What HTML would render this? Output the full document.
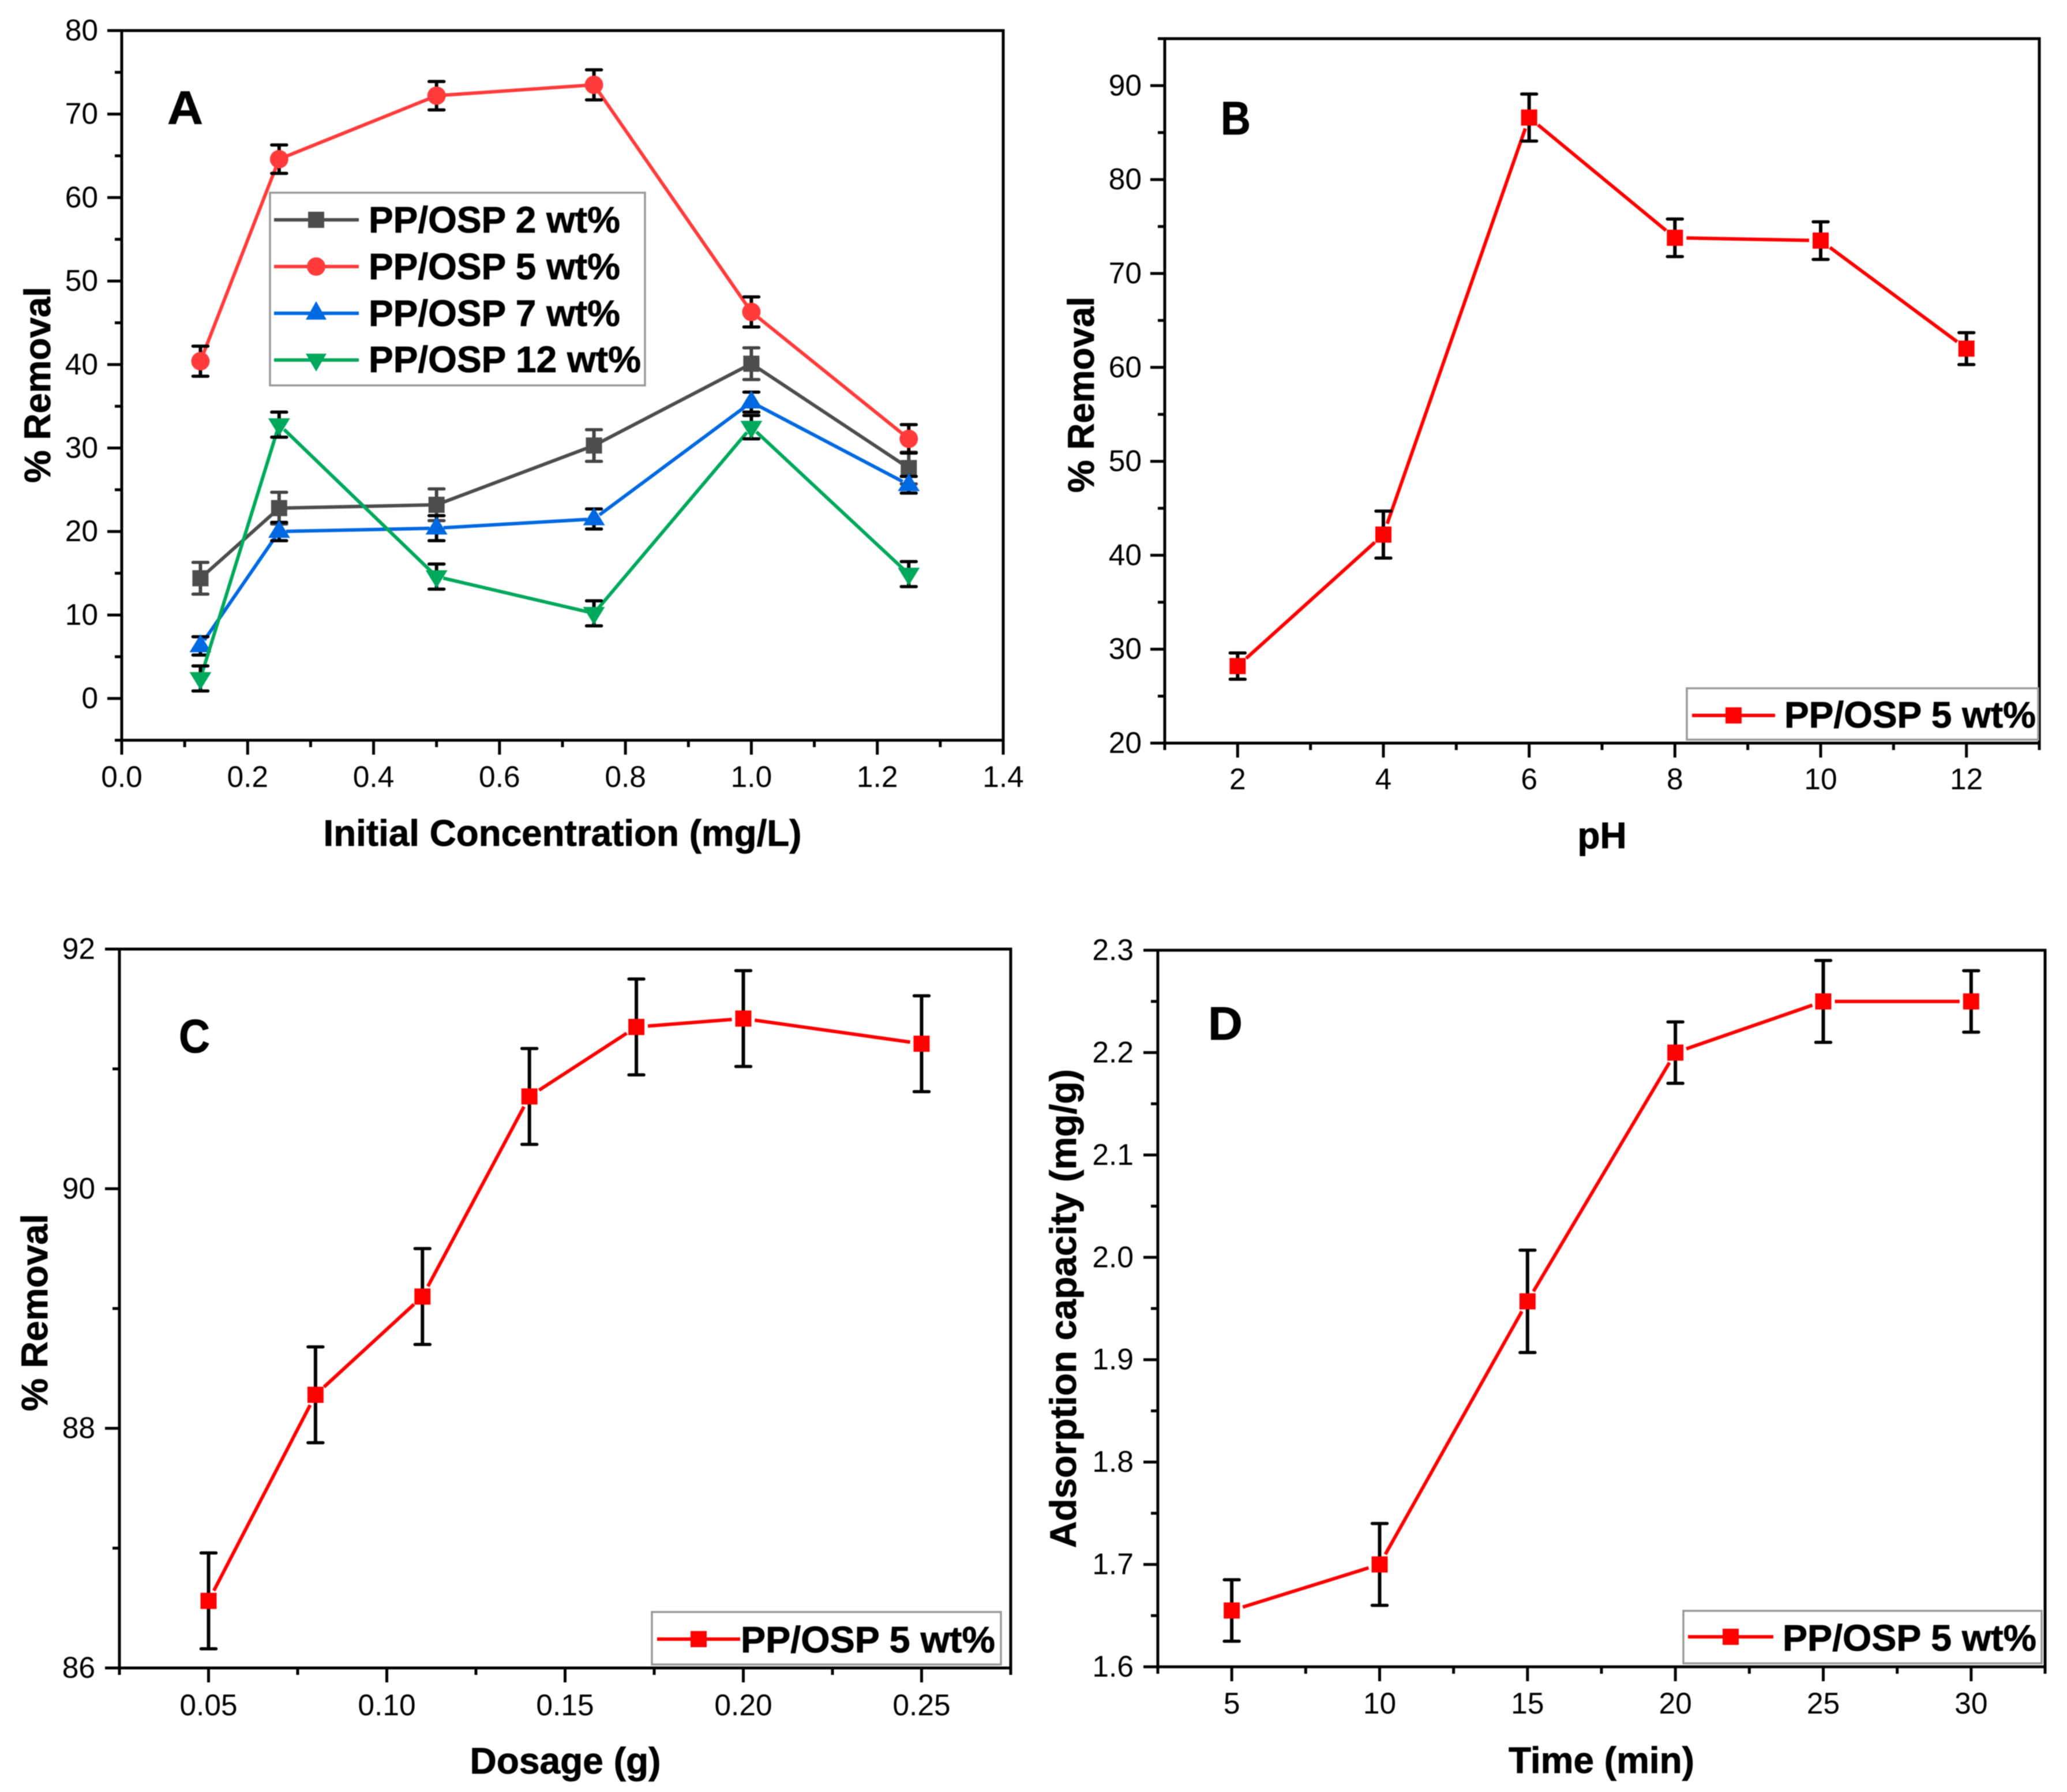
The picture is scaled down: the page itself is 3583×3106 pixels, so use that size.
<!DOCTYPE html>
<html lang="en">
<head>
<meta charset="utf-8">
<title>Removal performance of PP/OSP composites</title>
<style>
html,body{margin:0;padding:0;background:#fff;}
svg{display:block;filter:blur(0.7px);}
text{font-family:"Liberation Sans",sans-serif;fill:#000;}
.tick{font-size:51.5px;}
.bold{font-size:64px;font-weight:700;stroke:#000;stroke-width:0.8;}
.letter{font-size:82px;font-weight:700;stroke:#000;stroke-width:0.8;}
.box{fill:#fff;stroke:#999;stroke-width:3.5;}
</style>
</head>
<body>
<svg id="figure" xmlns="http://www.w3.org/2000/svg" width="3583" height="3106" viewBox="0 0 3583 3106">
<rect x="0" y="0" width="3583" height="3106" fill="#fff"/>
<g id="panel-a"></g>
<g id="panel-b"></g>
<g id="panel-c"></g>
<g id="panel-d"></g>

<text class="letter" x="290" y="215" textLength="62" lengthAdjust="spacingAndGlyphs">A</text>
<text class="letter" x="2116" y="233" textLength="52" lengthAdjust="spacingAndGlyphs">B</text>
<text class="letter" x="310" y="1824" textLength="54" lengthAdjust="spacingAndGlyphs">C</text>
<text class="letter" x="2094" y="1802" textLength="60" lengthAdjust="spacingAndGlyphs">D</text>

<text class="bold" x="975" y="1466" text-anchor="middle" textLength="829" lengthAdjust="spacingAndGlyphs">Initial Concentration (mg/L)</text>
<text class="bold" x="87" y="667" text-anchor="middle" transform="rotate(-90 87 667)" textLength="340" lengthAdjust="spacingAndGlyphs">% Removal</text>
<text class="bold" x="2777" y="1470" text-anchor="middle">pH</text>
<text class="bold" x="1896" y="684" text-anchor="middle" transform="rotate(-90 1896 684)" textLength="340" lengthAdjust="spacingAndGlyphs">% Removal</text>
<text class="bold" x="980" y="3074" text-anchor="middle" textLength="331" lengthAdjust="spacingAndGlyphs">Dosage (g)</text>
<text class="bold" x="82" y="2275" text-anchor="middle" transform="rotate(-90 82 2275)" textLength="342" lengthAdjust="spacingAndGlyphs">% Removal</text>
<text class="bold" x="2776" y="3073" text-anchor="middle" textLength="322" lengthAdjust="spacingAndGlyphs">Time (min)</text>
<text class="bold" x="1865" y="2268" text-anchor="middle" transform="rotate(-90 1865 2268)" textLength="830" lengthAdjust="spacingAndGlyphs">Adsorption capacity (mg/g)</text>

<g>
  <rect class="box" x="468" y="334" width="650" height="334"/>
  <g>
    <line x1="475" y1="381" x2="622" y2="381" stroke="#4d4d4d" stroke-width="6"/>
    <rect x="534" y="367" width="28" height="28" fill="#4d4d4d"/>
    <text class="bold" x="639" y="403" textLength="436" lengthAdjust="spacingAndGlyphs">PP/OSP 2 wt%</text>
  </g>
  <g>
    <line x1="475" y1="462" x2="622" y2="462" stroke="#ff3b3b" stroke-width="6"/>
    <circle cx="548" cy="462" r="16" fill="#ff3b3b"/>
    <text class="bold" x="639" y="484" textLength="436" lengthAdjust="spacingAndGlyphs">PP/OSP 5 wt%</text>
  </g>
  <g>
    <line x1="475" y1="543" x2="622" y2="543" stroke="#0068e0" stroke-width="6"/>
    <polygon points="548,522 566,554 530,554" fill="#0068e0"/>
    <text class="bold" x="639" y="565" textLength="436" lengthAdjust="spacingAndGlyphs">PP/OSP 7 wt%</text>
  </g>
  <g>
    <line x1="475" y1="624" x2="622" y2="624" stroke="#00a85c" stroke-width="6"/>
    <polygon points="530,613 566,613 548,644" fill="#00a85c"/>
    <text class="bold" x="639" y="645" textLength="472" lengthAdjust="spacingAndGlyphs">PP/OSP 12 wt%</text>
  </g>
</g>

<g>
  <rect class="box" x="2924" y="1193" width="609" height="89"/>
  <line x1="2933" y1="1240" x2="3077" y2="1240" stroke="#f00" stroke-width="6"/>
  <rect x="2991" y="1226" width="28" height="28" fill="#f00"/>
  <text class="bold" x="3093" y="1261" textLength="436" lengthAdjust="spacingAndGlyphs">PP/OSP 5 wt%</text>
</g>
<g>
  <rect class="box" x="1130" y="2794" width="605" height="91"/>
  <line x1="1139" y1="2841" x2="1283" y2="2841" stroke="#f00" stroke-width="6"/>
  <rect x="1197" y="2827" width="28" height="28" fill="#f00"/>
  <text class="bold" x="1284" y="2864" textLength="441" lengthAdjust="spacingAndGlyphs">PP/OSP 5 wt%</text>
</g>
<g>
  <rect class="box" x="2918" y="2792" width="621" height="91"/>
  <line x1="2926" y1="2837" x2="3074" y2="2837" stroke="#f00" stroke-width="6"/>
  <rect x="2986" y="2823" width="28" height="28" fill="#f00"/>
  <text class="bold" x="3090" y="2861" textLength="440" lengthAdjust="spacingAndGlyphs">PP/OSP 5 wt%</text>
</g>
</svg>

<script>
// ----- Panel A data -----
const aCategories = [0.125, 0.25, 0.5, 0.75, 1.0, 1.25];
const aValues2wt  = [14.4, 22.8, 23.2, 30.3, 40.1, 27.6];
const aErrors2wt  = [1.9, 1.9, 1.9, 1.9, 1.9, 1.9];
const aValues5wt  = [40.4, 64.6, 72.2, 73.5, 46.3, 31.1];
const aErrors5wt  = [1.8, 1.7, 1.7, 1.8, 1.8, 1.7];
const aValues7wt  = [6.3, 20.0, 20.4, 21.5, 35.5, 25.6];
const aErrors7wt  = [1.1, 1.1, 1.5, 1.2, 1.2, 1.0];
const aValues12wt = [2.4, 32.8, 14.6, 10.2, 32.5, 14.9];
const aErrors12wt = [1.5, 1.5, 1.5, 1.5, 1.4, 1.5];
const aXTickLabels = ['0.0', '0.2', '0.4', '0.6', '0.8', '1.0', '1.2', '1.4'];
const aXMinorTicks = [0.1, 0.3, 0.5, 0.7, 0.9, 1.1, 1.3];
const aYTickLabels = ['0', '10', '20', '30', '40', '50', '60', '70', '80'];
const aYMinorTicks = [-5, 5, 15, 25, 35, 45, 55, 65, 75];

// ----- Panel B data -----
const bCategories = [2, 4, 6, 8, 10, 12];
const bValues = [28.2, 42.2, 86.6, 73.8, 73.5, 62.0];
const bErrors = [1.4, 2.5, 2.5, 2.0, 2.0, 1.7];
const bXTickLabels = ['2', '4', '6', '8', '10', '12'];
const bXMinorTicks = [1, 3, 5, 7, 9, 11, 13];
const bYTickLabels = ['20', '30', '40', '50', '60', '70', '80', '90'];
const bYMinorTicks = [25, 35, 45, 55, 65, 75, 85, 95];

// ----- Panel C data -----
const cCategories = [0.05, 0.08, 0.11, 0.14, 0.17, 0.20, 0.25];
const cValues = [86.56, 88.28, 89.1, 90.77, 91.35, 91.42, 91.21];
const cErrors = [0.4, 0.4, 0.4, 0.4, 0.4, 0.4, 0.4];
const cXTickLabels = ['0.05', '0.10', '0.15', '0.20', '0.25'];
const cXMinorTicks = [0.025, 0.075, 0.125, 0.175, 0.225, 0.275];
const cYTickLabels = ['86', '88', '90', '92'];
const cYMinorTicks = [87, 89, 91];

// ----- Panel D data -----
const dCategories = [5, 10, 15, 20, 25, 30];
const dValues = [1.655, 1.7, 1.957, 2.2, 2.25, 2.25];
const dErrors = [0.03, 0.04, 0.05, 0.03, 0.04, 0.03];
const dXTickLabels = ['5', '10', '15', '20', '25', '30'];
const dXMinorTicks = [2.5, 7.5, 12.5, 17.5, 22.5, 27.5, 32.5];
const dYTickLabels = ['1.6', '1.7', '1.8', '1.9', '2.0', '2.1', '2.2', '2.3'];
const dYMinorTicks = [1.65, 1.75, 1.85, 1.95, 2.05, 2.15, 2.25];

const SVG_NS = 'http://www.w3.org/2000/svg';

function make(tag, parent, attrs) {
  const el = document.createElementNS(SVG_NS, tag);
  for (const k in attrs) el.setAttribute(k, attrs[k]);
  parent.appendChild(el);
  return el;
}

function scale(d0, d1, r0, r1) {
  return function (v) { return r0 + (v - d0) * (r1 - r0) / (d1 - d0); };
}

function drawAxes(g, key, box, xs, ys, xLabels, xMinor, yLabels, yMinor, lab) {
  const axisStyle = { stroke: '#000', 'stroke-width': 5 };
  const frame = make('rect', g, { x: box.l, y: box.t, width: box.r - box.l, height: box.b - box.t, fill: 'none', stroke: '#000', 'stroke-width': 5 });
  
  

  xLabels.forEach(function (s) {
    const x = xs(parseFloat(s));
    const t = make('line', g, Object.assign({ x1: x, x2: x, y1: box.b, y2: box.b + 25 }, axisStyle));
    
    
    const txt = make('text', g, { x: x, y: lab.xBase, class: 'tick', 'text-anchor': 'middle' });
    txt.textContent = s;
    
    
  });
  xMinor.forEach(function (v) {
    const x = xs(v);
    const t = make('line', g, Object.assign({ x1: x, x2: x, y1: box.b, y2: box.b + 12 }, axisStyle));
    
    
  });
  yLabels.forEach(function (s) {
    const y = ys(parseFloat(s));
    const t = make('line', g, Object.assign({ x1: box.l - 25, x2: box.l, y1: y, y2: y }, axisStyle));
    
    
    const txt = make('text', g, { x: lab.yEnd, y: y + 17, class: 'tick', 'text-anchor': 'end' });
    txt.textContent = s;
    
    
  });
  yMinor.forEach(function (v) {
    const y = ys(v);
    const t = make('line', g, Object.assign({ x1: box.l - 12, x2: box.l, y1: y, y2: y }, axisStyle));
    
    
  });
}

function drawSeries(g, key, xs, ys, cats, vals, errs, color, shape, errColor, gap) {
  const size = 28, half = size / 2;
  for (let i = 0; i + 1 < cats.length; i++) {
    const x0 = xs(cats[i]), y0 = ys(vals[i]), x1 = xs(cats[i + 1]), y1 = ys(vals[i + 1]);
    const dx = x1 - x0, dy = y1 - y0, len = Math.hypot(dx, dy);
    const ux = dx / len, uy = dy / len;
    const seg = make('line', g, { x1: x0 + ux * gap, y1: y0 + uy * gap, x2: x1 - ux * gap, y2: y1 - uy * gap, stroke: color, 'stroke-width': 6 });
    
    
  }
  cats.forEach(function (c, i) {
    const x = xs(c), yHi = ys(vals[i] + errs[i]), yLo = ys(vals[i] - errs[i]);
    const stem = make('line', g, { x1: x, x2: x, y1: yHi, y2: yLo, stroke: errColor, 'stroke-width': 6 });
    
    
    const capHi = make('line', g, { x1: x - 13, x2: x + 13, y1: yHi, y2: yHi, stroke: errColor, 'stroke-width': 5.5, 'stroke-linecap': 'round' });
    
    
    const capLo = make('line', g, { x1: x - 13, x2: x + 13, y1: yLo, y2: yLo, stroke: errColor, 'stroke-width': 5.5, 'stroke-linecap': 'round' });
    
    
  });
  cats.forEach(function (c, i) {
    const x = xs(c), y = ys(vals[i]);
    let m;
    if (shape === 'square') {
      m = make('rect', g, { x: x - half, y: y - half, width: size, height: size, fill: color });
    } else if (shape === 'circle') {
      m = make('circle', g, { cx: x, cy: y, r: 16, fill: color });
    } else if (shape === 'up') {
      m = make('polygon', g, { points: x + ',' + (y - 20) + ' ' + (x + 19) + ',' + (y + 11) + ' ' + (x - 19) + ',' + (y + 11), fill: color });
    } else {
      m = make('polygon', g, { points: (x - 19) + ',' + (y - 11) + ' ' + (x + 19) + ',' + (y - 11) + ' ' + x + ',' + (y + 20), fill: color });
    }
    
    
  });
}

(function () {
  const gA = document.getElementById('panel-a');
  const boxA = { l: 211, r: 1739, t: 53, b: 1283 };
  const xA = scale(0, 1.4, boxA.l, boxA.r);
  const yA = scale(-5, 80, boxA.b, boxA.t);
  drawAxes(gA, 'panel-a', boxA, xA, yA, aXTickLabels, aXMinorTicks, aYTickLabels, aYMinorTicks, { xBase: 1364, yEnd: 170 });
  drawSeries(gA, 'series-2-wt', xA, yA, aCategories, aValues2wt, aErrors2wt, '#4d4d4d', 'square', '#444', 12);
  drawSeries(gA, 'series-5-wt', xA, yA, aCategories, aValues5wt, aErrors5wt, '#ff3b3b', 'circle', '#000', 12);
  drawSeries(gA, 'series-7-wt', xA, yA, aCategories, aValues7wt, aErrors7wt, '#0068e0', 'up', '#000', 12);
  drawSeries(gA, 'series-12-wt', xA, yA, aCategories, aValues12wt, aErrors12wt, '#00a85c', 'down', '#000', 12);

  const gB = document.getElementById('panel-b');
  const boxB = { l: 2019, r: 3535, t: 67, b: 1288 };
  const xB = scale(1, 13, boxB.l, boxB.r);
  const yB = scale(20, 95, boxB.b, boxB.t);
  drawAxes(gB, 'panel-b', boxB, xB, yB, bXTickLabels, bXMinorTicks, bYTickLabels, bYMinorTicks, { xBase: 1368, yEnd: 1979 });
  drawSeries(gB, 'series-ph', xB, yB, bCategories, bValues, bErrors, '#f00', 'square', '#000', 20);

  const gC = document.getElementById('panel-c');
  const boxC = { l: 207, r: 1752, t: 1645, b: 2891 };
  const xC = scale(0.025, 0.275, boxC.l, boxC.r);
  const yC = scale(86, 92, boxC.b, boxC.t);
  drawAxes(gC, 'panel-c', boxC, xC, yC, cXTickLabels, cXMinorTicks, cYTickLabels, cYMinorTicks, { xBase: 2973, yEnd: 165 });
  drawSeries(gC, 'series-dosage', xC, yC, cCategories, cValues, cErrors, '#f00', 'square', '#000', 20);

  const gD = document.getElementById('panel-d');
  const boxD = { l: 2007, r: 3545, t: 1647, b: 2889 };
  const xD = scale(2.5, 32.5, boxD.l, boxD.r);
  const yD = scale(1.6, 2.3, boxD.b, boxD.t);
  drawAxes(gD, 'panel-d', boxD, xD, yD, dXTickLabels, dXMinorTicks, dYTickLabels, dYMinorTicks, { xBase: 2970, yEnd: 1965 });
  drawSeries(gD, 'series-time', xD, yD, dCategories, dValues, dErrors, '#f00', 'square', '#000', 20);
})();
</script>
</body>
</html>
